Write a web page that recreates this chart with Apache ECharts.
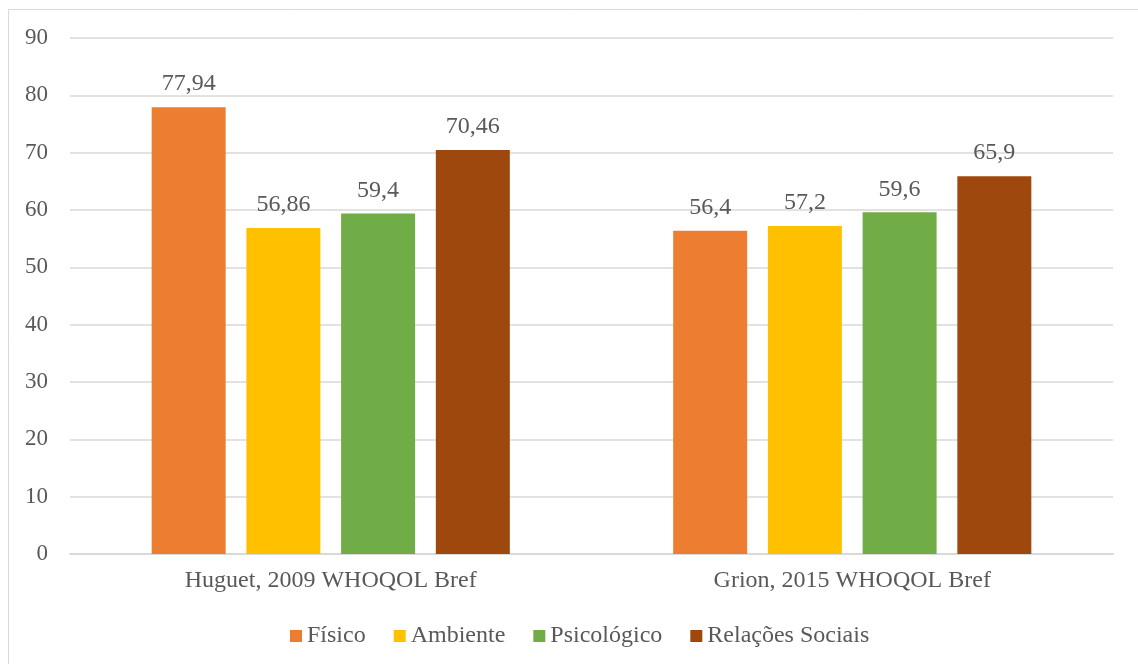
<!DOCTYPE html>
<html><head><meta charset="utf-8">
<script src="https://cdn.jsdelivr.net/npm/echarts@6/dist/echarts.min.js"></script>
<style>html,body{margin:0;padding:0;background:#fff}#c{width:1138px;height:664px}</style>
</head><body><div id="c"></div>
<script>
const categories = ['Huguet, 2009 WHOQOL Bref', 'Grion, 2015 WHOQOL Bref'];
const seriesNames = ['Físico', 'Ambiente', 'Psicológico', 'Relações Sociais'];
const fisico = [77.94, 56.4];
const ambiente = [56.86, 57.2];
const psicologico = [59.4, 59.6];
const relacoes = [70.46, 65.9];
const colors = ['#ED7D31', '#FFC000', '#70AD47', '#9E480E'];
const values = [fisico, ambiente, psicologico, relacoes];
const font = 'Liberation Serif, Times New Roman, serif';
const txt = '#595959';
const chart = echarts.init(document.getElementById('c'));
chart.setOption({
  animation: false,
  textStyle: { fontFamily: font },
  graphic: [{ type: 'rect', shape: { x: 8.5, y: 9.5, width: 1140, height: 660 }, style: { fill: 'none', stroke: '#d9d9d9', lineWidth: 1 }, silent: true }],
  grid: { left: 70, right: 25, top: 38, bottom: 110 },
  legend: {
    left: 285, top: 619, itemWidth: 12, itemHeight: 12, itemGap: 28, icon: 'rect',
    textStyle: { fontFamily: font, fontSize: 24, color: txt },
    data: seriesNames
  },
  xAxis: {
    type: 'category', data: categories,
    axisLine: { lineStyle: { color: '#d9d9d9', width: 2 } },
    axisTick: { show: false },
    axisLabel: { fontFamily: font, fontSize: 24, color: txt, margin: 15 }
  },
  yAxis: {
    type: 'value', min: 0, max: 90, interval: 10,
    axisLine: { show: false }, axisTick: { show: false },
    splitLine: { lineStyle: { color: '#d9d9d9', width: 1.5 } },
    axisLabel: { fontFamily: font, fontSize: 23, color: txt, margin: 22 }
  },
  series: seriesNames.map((n, i) => ({
    name: n, type: 'bar', data: values[i], barWidth: 74, barGap: '28%',
    itemStyle: { color: colors[i] },
    label: { show: true, position: 'top', distance: 11, fontFamily: font, fontSize: 24, color: txt,
      formatter: p => String(p.value).replace('.', ',') }
  }))
});
</script></body></html>
